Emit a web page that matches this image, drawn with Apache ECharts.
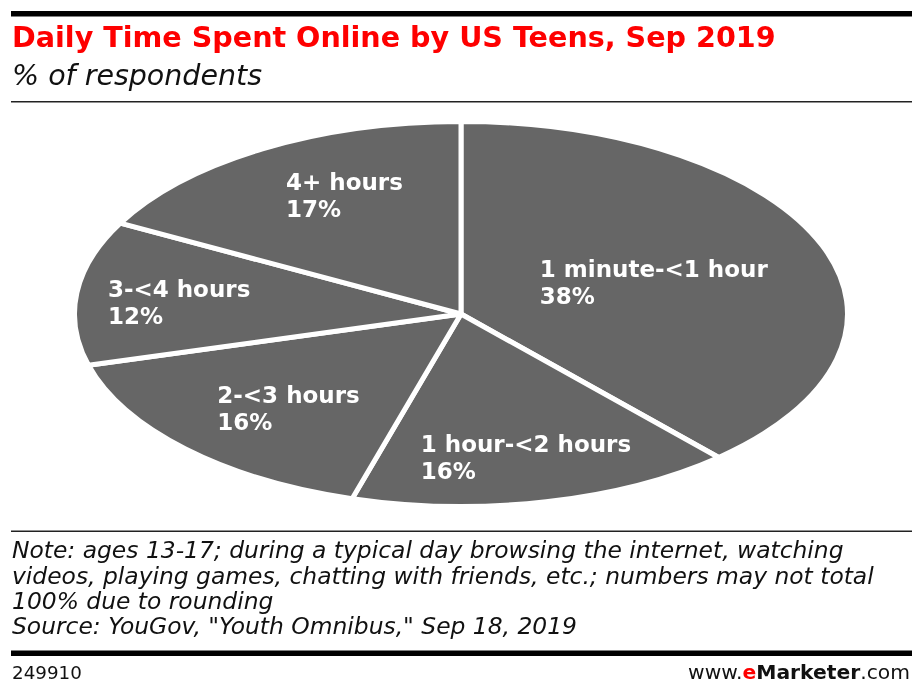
<!DOCTYPE html>
<html>
<head>
<meta charset="utf-8">
<script src="https://cdn.jsdelivr.net/npm/echarts@6/dist/echarts.min.js"></script>
<style>
  html, body { margin: 0; padding: 0; background: #fff; }
  #wrap { position: relative; width: 922px; height: 697px; overflow: hidden; }
  #pie { position: absolute; }
  #main { position: absolute; left: 0; top: 0; width: 922px; height: 697px; }
  #pie svg path { vector-effect: non-scaling-stroke; }
</style>
</head>
<body>
<div id="wrap">
  <div id="pie"></div>
  <div id="main"></div>
</div>
<script>
// ---- data ----
const categories = ['1 minute-<1 hour', '1 hour-<2 hours', '2-<3 hours', '3-<4 hours', '4+ hours'];
const values = [38, 16, 16, 12, 17];
const titleText = 'Daily Time Spent Online by US Teens, Sep 2019';
const subtitleText = '% of respondents';
const noteLines = [
  'Note: ages 13-17; during a typical day browsing the internet, watching',
  'videos, playing games, chatting with friends, etc.; numbers may not total',
  '100% due to rounding',
  'Source: YouGov, "Youth Omnibus," Sep 18, 2019'
];
const chartId = '249910';

// ---- layout / style ----
const CX = 461, CY = 314, RX = 384, RY = 190, BW = 5;
const PW = 780, PH = 392;
// per-label placement factors along the library's label direction (x, y)
const labelFactors = [[0.521, 0.427], [0.744, 0.761], [0.611, 0.702], [0.716, 0.427], [0.573, 0.691]];
const FONT = '"DejaVu Sans", Verdana, sans-serif';

const pieData = categories.map((c, i) => ({ name: c, value: values[i] }));

// ---- elliptical pie (drawn by the pie series, stretched horizontally) ----
const pieDom = document.getElementById('pie');
pieDom.style.left = (CX - PW / 2) + 'px';
pieDom.style.top = (CY - PH / 2) + 'px';
pieDom.style.width = PW + 'px';
pieDom.style.height = PH + 'px';
const chartB = echarts.init(pieDom, null, { renderer: 'svg' });
chartB.setOption({
  animation: false,
  series: [{
    type: 'pie',
    silent: true,
    center: ['50%', '50%'],
    radius: RY + BW / 2,
    startAngle: 90,
    clockwise: true,
    label: { show: false },
    labelLine: { show: false },
    itemStyle: { color: '#666666', borderColor: '#ffffff', borderWidth: BW },
    data: pieData
  }]
});
function stretch() {
  const svg = pieDom.querySelector('svg');
  if (!svg) return;
  const sx = (RX + BW / 2) / (RY + BW / 2);
  const vw = PW / sx;
  svg.setAttribute('viewBox', (PW / 2 - vw / 2) + ' 0 ' + vw + ' ' + PH);
  svg.setAttribute('preserveAspectRatio', 'none');
}
try { chartB.getZr().refreshImmediately(); } catch (e) {}
stretch();
chartB.on('finished', stretch);

// ---- labels, titles, notes ----
const chart = echarts.init(document.getElementById('main'));
chart.setOption({
  backgroundColor: 'transparent',
  animation: false,
  graphic: [
    { type: 'rect', silent: true, shape: { x: 11, y: 11, width: 901, height: 5.5 }, style: { fill: '#000' } },
    { type: 'text', silent: true, x: 12, y: 39.5, style: { text: titleText, fill: '#fe0000', font: 'bold 28.6px ' + FONT, verticalAlign: 'middle', align: 'left' } },
    { type: 'text', silent: true, x: 12, y: 78, style: { text: subtitleText, fill: '#111', font: 'italic 28.5px ' + FONT, verticalAlign: 'middle', align: 'left' } },
    { type: 'rect', silent: true, shape: { x: 11, y: 101, width: 901, height: 1.5 }, style: { fill: '#222' } },
    { type: 'rect', silent: true, shape: { x: 11, y: 530.5, width: 901, height: 1.5 }, style: { fill: '#222' } },
    { type: 'text', silent: true, x: 12, y: 539.5, style: { text: noteLines.join('\n'), fill: '#111', font: 'italic 23.4px ' + FONT, lineHeight: 25.4, verticalAlign: 'top', align: 'left' } },
    { type: 'rect', silent: true, shape: { x: 11, y: 650.5, width: 901, height: 5.5 }, style: { fill: '#000' } },
    { type: 'text', silent: true, x: 12, y: 674, style: { text: chartId, fill: '#111', font: '18.3px ' + FONT, verticalAlign: 'middle', align: 'left' } },
    { type: 'text', silent: true, x: 910, y: 674, style: {
        text: '{a|www.}{b|e}{c|Marketer}{a|.com}', align: 'right', verticalAlign: 'middle',
        rich: {
          a: { fill: '#111', font: '20.3px ' + FONT },
          b: { fill: '#fe0000', font: 'bold 20.3px ' + FONT },
          c: { fill: '#111', font: 'bold 20.3px ' + FONT }
        }
      } }
  ],
  series: [{
    type: 'pie',
    silent: true,
    center: [CX, CY],
    radius: RY,
    startAngle: 90,
    clockwise: true,
    itemStyle: { color: 'rgba(0,0,0,0)', borderWidth: 0 },
    labelLine: { show: false },
    label: {
      show: true,
      position: 'inside',
      formatter: '{b}\n{c}%',
      color: '#ffffff',
      fontFamily: FONT,
      fontWeight: 'bold',
      fontSize: 23,
      lineHeight: 27
    },
    labelLayout: function (p) {
      const r = p.labelRect;
      const lx = r.x + r.width / 2, ly = r.y + r.height / 2;
      const half = RY / 2;
      const dx = (lx - CX) / half, dy = (ly - CY) / half;
      const f = labelFactors[p.dataIndex];
      const nx = CX + dx * f[0] * RX, ny = CY + dy * f[1] * RY;
      return { x: nx - r.width / 2, y: ny - r.height / 2, align: 'left', verticalAlign: 'top' };
    },
    data: pieData
  }]
});
</script>
</body>
</html>
